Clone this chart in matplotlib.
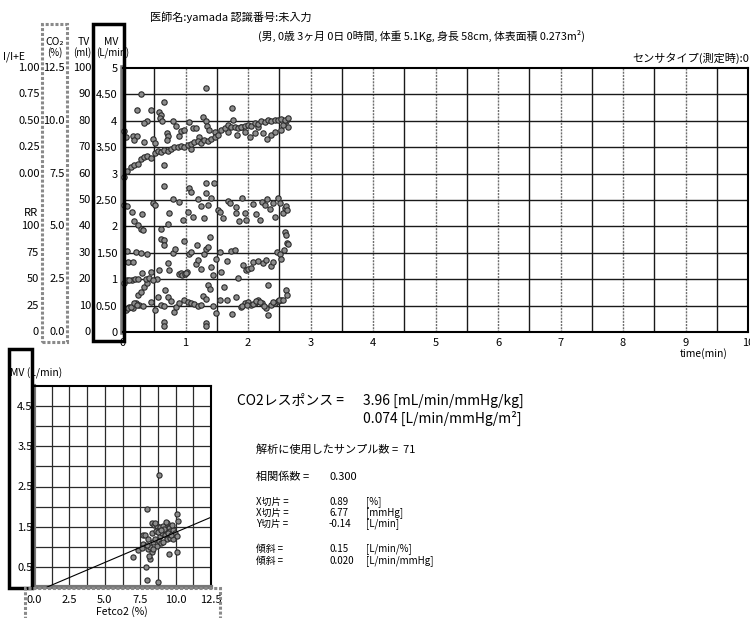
import numpy as np
import matplotlib.pyplot as plt
from matplotlib.patches import Rectangle
from matplotlib.transforms import blended_transform_factory

plt.rcParams['font.family'] = ['Noto Sans CJK JP', 'DejaVu Sans']

W, H = 750, 618

# ---- trend data: (time [min], position on the MV scale) ----
mv_pts = [(0.02, 2.94), (0.06, 3.04), (0.13, 3.13), (0.18, 3.16), (0.24, 3.18), (0.29, 3.27),
          (0.34, 3.32), (0.39, 3.34), (0.45, 3.29), (0.51, 3.39), (0.56, 3.42), (0.61, 3.40),
          (0.66, 3.45), (0.72, 3.42), (0.77, 3.47), (0.82, 3.51), (0.88, 3.50), (0.93, 3.53),
          (0.98, 3.51), (1.04, 3.54), (1.09, 3.56), (1.14, 3.59), (1.20, 3.61), (1.25, 3.58),
          (1.30, 3.63), (1.36, 3.61), (1.41, 3.65), (1.47, 3.69), (1.52, 3.73), (1.57, 3.83),
          (1.63, 3.86), (1.68, 3.92), (1.73, 3.89), (1.79, 3.89), (1.84, 3.86), (1.89, 3.88),
          (1.95, 3.90), (2.00, 3.92), (2.05, 3.90), (2.11, 3.96), (2.16, 3.94), (2.21, 3.99),
          (2.27, 3.97), (2.32, 4.01), (2.37, 3.99), (2.43, 4.02), (2.48, 4.01), (2.53, 4.03),
          (2.59, 4.02), (2.64, 4.05)]

ie_pts = [(0.02, 3.80), (0.05, 3.70), (0.29, 4.51), (0.22, 4.21), (0.66, 4.35), (0.45, 4.21),
          (0.39, 4.00), (0.33, 3.96), (0.16, 3.72), (0.22, 3.72), (0.18, 3.63), (0.34, 3.59),
          (0.48, 3.65), (0.51, 3.58), (0.57, 4.16), (0.61, 4.11), (0.59, 4.05), (0.63, 3.99),
          (0.71, 3.77), (0.72, 3.72), (0.70, 3.64), (0.80, 4.00), (0.89, 3.72), (0.93, 3.80),
          (0.85, 3.90), (0.97, 3.83), (1.06, 3.97), (1.12, 3.86), (1.17, 3.87), (1.22, 3.70),
          (1.09, 3.46), (1.33, 4.63), (1.28, 4.08), (1.32, 4.00), (1.35, 3.90), (1.37, 3.83),
          (1.47, 3.78), (1.74, 4.25), (1.68, 3.78), (1.76, 4.02), (1.83, 3.73), (1.89, 3.89),
          (1.95, 3.78), (2.03, 3.70), (2.11, 3.77), (2.16, 3.89), (2.24, 3.77), (2.30, 3.65),
          (2.37, 3.73), (2.43, 3.78), (2.53, 3.83), (2.61, 3.99), (2.64, 3.89), (2.56, 3.92),
          (0.66, 3.16)]

tv_pts = [(0.02, 2.41), (0.07, 2.39), (0.14, 2.28), (0.18, 2.11), (0.24, 2.03), (0.29, 1.96),
          (0.32, 1.93), (0.30, 2.23), (0.48, 2.44), (0.51, 2.41), (0.60, 1.96), (0.66, 2.77),
          (0.72, 2.04), (0.74, 2.26), (0.80, 2.51), (0.90, 2.47), (0.96, 2.12), (1.04, 2.28),
          (1.06, 2.72), (1.09, 2.66), (1.12, 2.18), (1.20, 2.51), (1.25, 2.39), (1.30, 2.15),
          (1.33, 2.82), (1.33, 2.63), (1.36, 2.41), (1.41, 2.53), (1.45, 2.82), (1.52, 2.32),
          (1.55, 2.28), (1.60, 2.16), (1.68, 2.48), (1.71, 2.45), (1.80, 2.37), (1.81, 2.25),
          (1.85, 2.11), (1.90, 2.54), (1.95, 2.25), (1.97, 2.12), (2.08, 2.42), (2.12, 2.23),
          (2.19, 2.13), (2.22, 2.47), (2.27, 2.41), (2.30, 2.51), (2.35, 2.33), (2.40, 2.44),
          (2.43, 2.17), (2.48, 2.53), (2.51, 2.44), (2.56, 2.26), (2.59, 2.34), (2.61, 2.39),
          (2.63, 2.32), (2.59, 1.90), (2.60, 1.84), (2.64, 1.66)]

co2_pts = [(0.07, 1.53), (0.08, 1.33), (0.16, 1.33), (0.21, 1.52), (0.28, 1.49), (0.39, 1.47),
           (0.30, 1.12), (0.24, 1.01), (0.10, 0.99), (0.45, 1.14), (0.48, 0.98), (0.58, 1.17),
           (0.61, 1.77), (0.65, 1.74), (0.66, 1.65), (0.72, 1.30), (0.74, 1.17), (0.80, 1.49),
           (0.83, 1.58), (0.89, 1.09), (0.93, 1.12), (0.98, 1.73), (1.03, 1.14), (1.06, 1.47),
           (1.09, 1.52), (1.16, 1.28), (1.19, 1.65), (1.20, 1.37), (1.24, 1.20), (1.30, 1.47),
           (1.33, 1.58), (1.36, 1.61), (1.39, 1.80), (1.41, 1.23), (1.44, 1.08), (1.49, 1.39),
           (1.55, 1.52), (1.57, 1.14), (1.67, 1.35), (1.72, 1.53), (1.79, 1.55), (1.84, 1.03),
           (1.92, 1.27), (1.97, 1.17), (2.08, 1.33), (2.16, 1.35), (2.24, 1.30), (2.29, 1.36),
           (2.37, 1.25), (2.40, 1.33), (2.47, 1.52), (2.51, 1.47), (2.53, 1.39), (2.58, 1.55),
           (2.62, 1.68), (0.95, 1.08), (0.99, 1.10), (1.01, 1.11), (2.00, 1.20), (2.04, 1.22)]

rr_pts = [(0.01, 0.92), (0.05, 0.41), (0.06, 0.98), (0.10, 0.47), (0.16, 0.46), (0.21, 0.54),
          (0.24, 0.70), (0.26, 0.51), (0.29, 0.76), (0.32, 0.49), (0.34, 0.85), (0.39, 0.92),
          (0.45, 0.57), (0.51, 0.41), (0.56, 0.66), (0.61, 0.51), (0.66, 0.49), (0.66, 0.19),
          (0.66, 0.11), (0.67, 0.79), (0.72, 0.66), (0.77, 0.59), (0.81, 0.38), (0.85, 0.47),
          (0.90, 0.54), (0.98, 0.61), (1.04, 0.57), (1.09, 0.54), (1.14, 0.53), (1.20, 0.49),
          (1.25, 0.51), (1.28, 0.68), (1.33, 0.63), (1.33, 0.17), (1.33, 0.11), (1.36, 0.89),
          (1.39, 0.82), (1.44, 0.49), (1.49, 0.36), (1.55, 0.61), (1.61, 0.85), (1.67, 0.60),
          (1.74, 0.35), (1.81, 0.66), (1.88, 0.47), (1.95, 0.54), (2.00, 0.57), (2.05, 0.51),
          (2.11, 0.55), (2.16, 0.60), (2.22, 0.54), (2.29, 0.46), (2.32, 0.32), (2.32, 0.89),
          (2.37, 0.51), (2.43, 0.55), (2.48, 0.59), (2.53, 0.60), (2.60, 0.79), (2.63, 0.70),
          (0.08, 0.46), (0.12, 0.47), (0.18, 0.55), (0.23, 0.52), (1.90, 0.50), (1.98, 0.52),
          (2.08, 0.53), (2.13, 0.58), (2.19, 0.57), (2.25, 0.50), (2.40, 0.57), (2.50, 0.60),
          (2.56, 0.61), (0.14, 0.99), (0.19, 1.00), (0.36, 1.00), (0.42, 1.02), (0.55, 1.00)]

# ---- CO2 response scatter: (FetCO2 [%], MV [L/min]) ----
fet_pts = [(8.85, 2.79), (8.00, 1.94), (10.08, 1.82), (10.15, 1.64), (6.97, 0.75), (7.89, 0.49),
           (7.96, 0.17), (8.78, 0.12), (9.53, 0.82), (10.10, 0.86), (7.32, 0.92),
           (7.72, 1.30), (7.85, 1.30), (8.31, 1.60), (8.45, 1.55), (8.66, 1.52), (8.90, 1.50),
           (9.13, 1.52), (9.37, 1.58), (9.50, 1.48), (9.60, 1.40), (9.84, 1.42), (9.95, 1.35),
           (8.90, 1.27), (9.05, 1.35), (9.25, 1.30), (9.37, 1.19), (9.60, 1.22), (9.84, 1.19),
           (10.08, 1.27), (8.43, 1.11), (8.55, 1.20), (8.66, 1.02), (8.80, 1.15), (9.00, 1.10),
           (9.13, 1.11), (8.07, 0.94), (8.19, 0.69), (7.72, 1.07), (8.31, 0.86), (8.20, 1.00),
           (7.95, 1.05), (8.05, 1.20), (8.35, 1.35), (8.60, 1.40), (8.75, 1.38), (9.20, 1.45),
           (9.45, 1.35), (9.70, 1.30), (8.15, 0.78), (8.40, 0.95), (8.95, 1.42), (9.30, 1.62),
           (8.55, 1.58), (9.75, 1.55), (7.60, 0.98)]

# regression results
SLOPE = 0.15
Y_ICPT = -0.14

# axis scales of the side columns, indexed by MV position
mv_ticks = [0, 0.5, 1, 1.5, 2, 2.5, 3, 3.5, 4, 4.5, 5]
mv_labels = ['0', '0.50', '1', '1.50', '2', '2.50', '3', '3.50', '4', '4.50', '5']
tv_labels = ['0', '10', '20', '30', '40', '50', '60', '70', '80', '90', '100']
co2_pos = [0, 1, 2, 3, 4, 5]
co2_labels = ['0.0', '2.5', '5.0', '7.5', '10.0', '12.5']
ie_pos = [3, 3.5, 4, 4.5, 5]
ie_labels = ['0.00', '0.25', '0.50', '0.75', '1.00']
rr_pos = [0, 0.5, 1, 1.5, 2]
rr_labels = ['0', '25', '50', '75', '100']
time_ticks = list(range(11))
fet_ticks = [0, 2.5, 5, 7.5, 10, 12.5]
fet_labels = ['0.0', '2.5', '5.0', '7.5', '10.0', '12.5']
mv2_ticks = [0.5, 1.5, 2.5, 3.5, 4.5]


def fx(px):
    return px / W


def fy(py):
    return 1 - py / H


def box(x0, y0, x1, y1, **kw):
    fig.add_artist(Rectangle((fx(x0), fy(y1)), (x1 - x0) / W, (y1 - y0) / H,
                             transform=fig.transFigure, fill=False, clip_on=False, **kw))


def dots(a, pts, s=15):
    x, y = zip(*pts)
    a.scatter(x, y, s=s, c='#8c8c8c', edgecolors='#2b2b2b', linewidths=0.8,
              zorder=3, clip_on=False)


fig = plt.figure(figsize=(7.5, 6.18), dpi=100)

# ---------------- trend chart ----------------
ax = fig.add_axes([fx(123), fy(332), (748 - 123) / W, (332 - 68) / H])
ax.set_xlim(0, 10)
ax.set_ylim(0, 5)
for t in np.arange(0.5, 10, 0.5):
    if t % 1 == 0:
        ax.axvline(t, color='#6e6e6e', lw=1.0, ls=(0, (1.5, 0.8)), zorder=1)
    else:
        ax.axvline(t, color='#1a1a1a', lw=1.0, zorder=1)
for v in np.arange(0.5, 5, 0.5):
    ax.axhline(v, color='#1a1a1a', lw=1.0, zorder=1)

for pts in (rr_pts, co2_pts, tv_pts, ie_pts, mv_pts):
    dots(ax, pts)

ax.set_xticks(time_ticks)
ax.set_xticklabels([str(t) for t in time_ticks], fontsize=8)
ax.set_yticks(mv_ticks)
ax.set_yticklabels(mv_labels, fontsize=8)
ax.tick_params(length=0)
ax.tick_params(axis='x', pad=4)
ax.tick_params(axis='y', pad=4)
for side in ('top', 'right', 'bottom'):
    ax.spines[side].set_color('black')
    ax.spines[side].set_linewidth(1.5)
ax.spines['left'].set_color('#777777')
ax.spines['left'].set_linewidth(4)
fig.text(fx(704), fy(354), 'time(min)', fontsize=7.5, ha='center', va='center')

# side scales share the MV vertical positions
tr = blended_transform_factory(fig.transFigure, ax.transData)
for pos, lab in zip(mv_ticks, tv_labels):
    ax.text(fx(91), pos, lab, transform=tr, fontsize=8, ha='right', va='center')
for pos, lab in zip(co2_pos, co2_labels):
    ax.text(fx(65), pos, lab, transform=tr, fontsize=8, ha='right', va='center')
for pos, lab in zip(ie_pos, ie_labels):
    ax.text(fx(40), pos, lab, transform=tr, fontsize=8, ha='right', va='center')
for pos, lab in zip(rr_pos, rr_labels):
    ax.text(fx(39), pos, lab, transform=tr, fontsize=8, ha='right', va='center')
ax.text(fx(38), 2.25, 'RR', transform=tr, fontsize=8, ha='right', va='center')

fig.text(fx(3), fy(57), 'I/I+E', fontsize=7.5, ha='left', va='center')
fig.text(fx(55), fy(42), 'CO₂', fontsize=7.5, ha='center', va='center')
fig.text(fx(55), fy(53), '(%)', fontsize=7, ha='center', va='center')
fig.text(fx(84), fy(42), 'TV', fontsize=7.5, ha='center', va='center')
fig.text(fx(82), fy(53), '(ml)', fontsize=7, ha='center', va='center')
fig.text(fx(111), fy(42), 'MV', fontsize=7.5, ha='center', va='center')
fig.text(fx(113), fy(53), '(L/min)', fontsize=7, ha='center', va='center')

box(42, 24, 67, 342, edgecolor='#8a8a8a', lw=2.2, ls=(0, (1, 0.6)))
box(93, 24, 124, 341, edgecolor='black', lw=2.5)

# header
fig.text(fx(150), fy(17), '医師名:yamada 認識番号:未入力', fontsize=8, ha='left', va='center')
fig.text(fx(585), fy(36), '(男, 0歳 3ヶ月 0日 0時間, 体重 5.1Kg, 身長 58cm, 体表面積 0.273m²)',
         fontsize=7.8, ha='right', va='center')
fig.text(fx(749), fy(58), 'センサタイプ(測定時):0', fontsize=8, ha='right', va='center')

# ---------------- CO2 response chart ----------------
ax2 = fig.add_axes([fx(34), fy(587), (211 - 34) / W, (587 - 386) / H])
ax2.set_xlim(0, 12.5)
ax2.set_ylim(0, 5)
for x in np.arange(1.25, 12.5, 1.25):
    ax2.axvline(x, color='#2a2a2a', lw=0.9, zorder=1)
for v in np.arange(0.5, 5, 0.5):
    ax2.axhline(v, color='#2a2a2a', lw=0.9, zorder=1)

dots(ax2, fet_pts, s=14)
fx_line = np.array([-Y_ICPT / SLOPE, 12.5])
ax2.plot(fx_line, SLOPE * fx_line + Y_ICPT, color='black', lw=0.8, zorder=4)

ax2.set_xticks(fet_ticks)
ax2.set_xticklabels(fet_labels, fontsize=8)
ax2.set_yticks(mv2_ticks)
ax2.set_yticklabels([f'{v:.1f}' for v in mv2_ticks], fontsize=8)
ax2.tick_params(length=0)
ax2.tick_params(axis='x', pad=6)
ax2.tick_params(axis='y', pad=1)
for side in ('top', 'right'):
    ax2.spines[side].set_linewidth(1.5)
ax2.spines['left'].set_color('#777777')
ax2.spines['left'].set_linewidth(3)
ax2.spines['bottom'].set_color('#777777')
ax2.spines['bottom'].set_linewidth(3)

fig.text(fx(10), fy(373), 'MV (L/min)', fontsize=7.5, ha='left', va='center')
fig.text(fx(122), fy(612), 'Fetco2 (%)', fontsize=7.5, ha='center', va='center')
box(9, 349, 32, 588, edgecolor='black', lw=2.5)
box(25, 588, 220, 620, edgecolor='#8a8a8a', lw=2.2, ls=(0, (1, 0.6)))

# ---------------- analysis summary ----------------
fig.text(fx(237), fy(401), 'CO2レスポンス =', fontsize=10, ha='left', va='center')
fig.text(fx(363), fy(401), '3.96 [mL/min/mmHg/kg]', fontsize=10, ha='left', va='center')
fig.text(fx(363), fy(418), '0.074 [L/min/mmHg/m²]', fontsize=10, ha='left', va='center')
fig.text(fx(256), fy(449), '解析に使用したサンプル数 =  71', fontsize=8, ha='left', va='center')
fig.text(fx(256), fy(477), '相関係数 =', fontsize=8, ha='left', va='center')
fig.text(fx(329), fy(477), '0.300', fontsize=8, ha='left', va='center')

rows = [(502, 'X切片 =', '0.89', '[%]'),
        (513, 'X切片 =', '6.77', '[mmHg]'),
        (524, 'Y切片 =', '-0.14', '[L/min]'),
        (549, '傾斜 =', '0.15', '[L/min/%]'),
        (561, '傾斜 =', '0.020', '[L/min/mmHg]')]
for py, name, val, unit in rows:
    fig.text(fx(256), fy(py), name, fontsize=7, ha='left', va='center')
    fig.text(fx(329), fy(py), val, fontsize=7, ha='left', va='center')
    fig.text(fx(366), fy(py), unit, fontsize=7, ha='left', va='center')

fig.savefig('out.png', dpi=100)
